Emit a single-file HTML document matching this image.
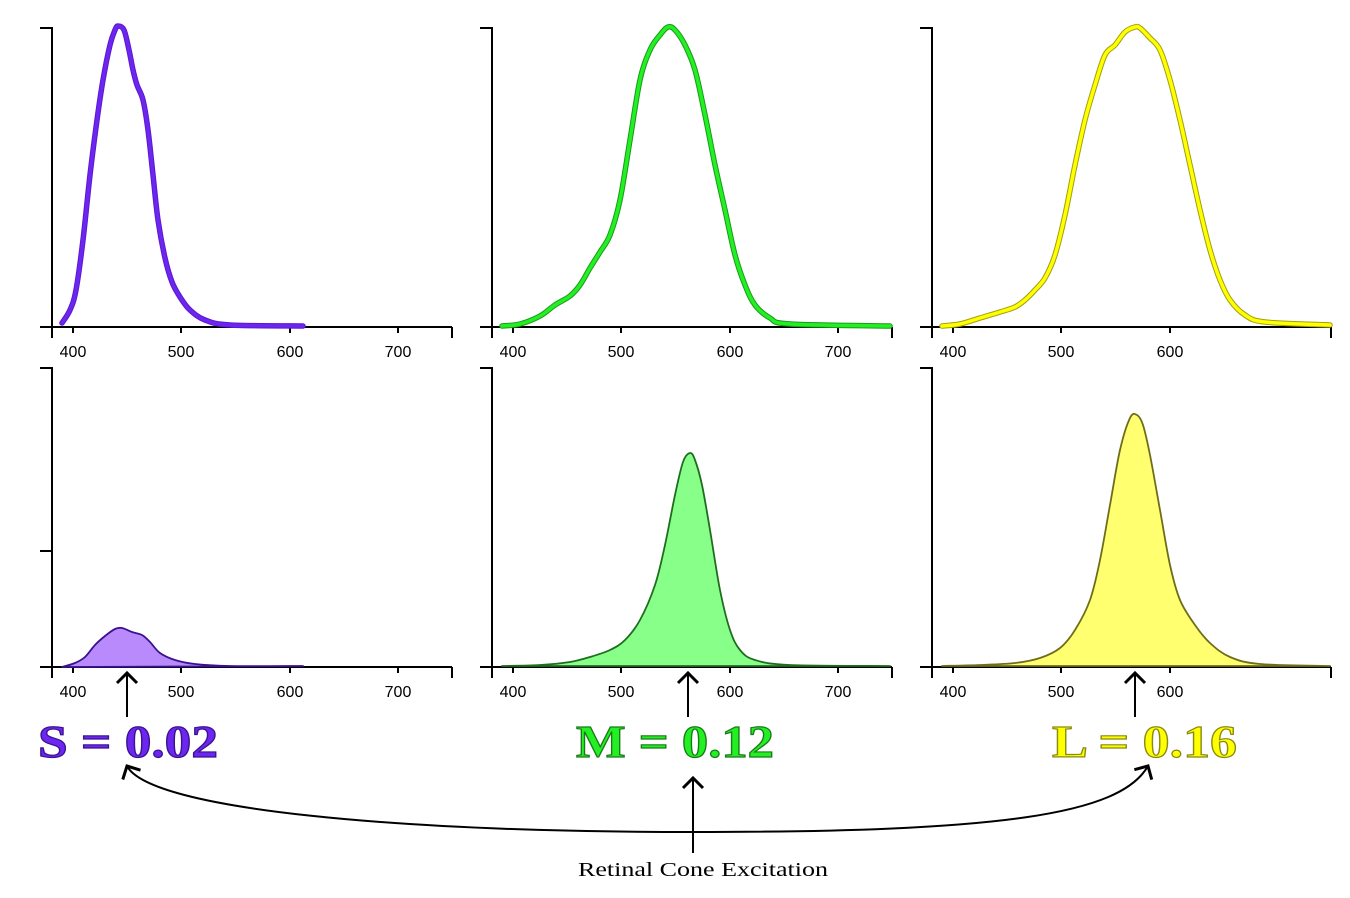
<!DOCTYPE html><html><head><style>body{margin:0;background:#fff}svg{display:block}</style></head><body>
<svg id="sv" width="1350" height="898" viewBox="0 0 1350 898" xmlns="http://www.w3.org/2000/svg">
<defs><marker id="ah" markerWidth="12" markerHeight="12" refX="6" refY="6" orient="auto"><path d="M1,1 L6,6 L1,11" fill="none" stroke="#000" stroke-width="1.5"/></marker></defs>
<g stroke="#000" stroke-width="2" fill="none">
<path d="M40,28H52V327M40,327H452M52,327V338M452,327V338M73,327V333M181,327V333M290,327V333M398,327V333"/>
<path d="M480,28H492V327M480,327H892M492,327V338M892,327V338M513,327V333M621,327V333M730,327V333M838,327V333"/>
<path d="M920,28H932V327M920,327H1331M932,327V338M1331,327V338M953,327V333M1061,327V333M1170,327V333"/>
<path d="M40,368H52V667M40,551H52M40,667H452M52,667V678M452,667V678M73,667V673M181,667V673M290,667V673M398,667V673"/>
<path d="M480,368H492V667M480,667H892M492,667V678M892,667V678M513,667V673M621,667V673M730,667V673M838,667V673"/>
<path d="M920,368H932V667M920,667H1331M932,667V678M1331,667V678M953,667V673M1061,667V673M1170,667V673"/>
</g>
<g font-family="Liberation Sans,sans-serif" font-size="16" text-anchor="middle">
<text x="73" y="357">400</text><text x="181" y="357">500</text><text x="290" y="357">600</text><text x="398" y="357">700</text>
<text x="513" y="357">400</text><text x="621" y="357">500</text><text x="730" y="357">600</text><text x="838" y="357">700</text>
<text x="953" y="357">400</text><text x="1061" y="357">500</text><text x="1170" y="357">600</text>
<text x="73" y="697">400</text><text x="181" y="697">500</text><text x="290" y="697">600</text><text x="398" y="697">700</text>
<text x="513" y="697">400</text><text x="621" y="697">500</text><text x="730" y="697">600</text><text x="838" y="697">700</text>
<text x="953" y="697">400</text><text x="1061" y="697">500</text><text x="1170" y="697">600</text>
</g>
<g id="curves" stroke-linejoin="round" stroke-linecap="round"></g>
<g stroke="#000" stroke-width="2" fill="none">
<path d="M127,717V673" marker-end="url(#ah)"/>
<path d="M688,717V673" marker-end="url(#ah)"/>
<path d="M1135,717V673" marker-end="url(#ah)"/>
<path d="M693,853V778" marker-end="url(#ah)"/>
<path d="M693,832 C400,832 150,810 127,766" marker-end="url(#ah)"/>
<path d="M693,832 C1000,832 1120,815 1148,766" marker-end="url(#ah)"/>
</g>
<g font-family="Liberation Serif,serif" font-weight="bold" font-size="46" stroke-width="1.2">
<text x="38" y="757" textLength="180" lengthAdjust="spacingAndGlyphs" fill="#6d25f0" stroke="#3a1290">S = 0.02</text>
<text x="576" y="757" textLength="198" lengthAdjust="spacingAndGlyphs" fill="#22f022" stroke="#1a7a1a">M = 0.12</text>
<text x="1052" y="757" textLength="185" lengthAdjust="spacingAndGlyphs" fill="#ffff00" stroke="#8a8a10">L = 0.16</text>
</g>
<text x="578" y="876" textLength="250" lengthAdjust="spacingAndGlyphs" font-family="Liberation Serif,serif" font-size="20">Retinal Cone Excitation</text>
</svg>
<script>
function sm(p){var d="M"+p[0][0]+","+p[0][1];for(var i=0;i<p.length-1;i++){var a=p[Math.max(i-1,0)],b=p[i],c=p[i+1],e=p[Math.min(i+2,p.length-1)];var c1=[b[0]+(c[0]-a[0])/6,b[1]+(c[1]-a[1])/6],c2=[c[0]-(e[0]-b[0])/6,c[1]-(e[1]-b[1])/6];d+=" C"+c1+" "+c2+" "+c;}return d;}
var S=[[62,323],[70,310],[76,290],[83,240],[90,175],[97,120],[103,80],[110,45],[115,30],[118,26],[124,30],[129,50],[133,70],[137,85],[143,100],[148,130],[153,175],[158,220],[165,258],[172,282],[180,297],[190,310],[205,320],[230,325],[303,326]];
var M=[[502,326],[520,324],[540,316],[555,305],[570,296],[580,285],[590,268],[600,252],[610,235],[620,200],[630,140],[640,80],[650,50],[660,35],[668,27],[675,30],[685,45],[695,70],[705,115],[715,165],[725,210],[735,255],[745,285],[755,305],[770,318],[790,324],[890,326]];
var L=[[942,326],[960,324],[980,318],[1000,312],[1015,307],[1025,300],[1035,290],[1045,278],[1055,255],[1065,215],[1075,165],[1085,120],[1095,85],[1105,55],[1115,45],[1125,32],[1135,27],[1140,28],[1150,38],[1160,50],[1170,80],[1180,120],[1190,165],[1200,210],[1210,250],[1220,280],[1230,300],[1245,315],[1265,322],[1330,325]];
var S2=[[62,667],[75,663],[85,657],[95,645],[105,636],[115,629],[122,628],[132,632],[142,635],[150,642],[160,653],[175,660],[195,664],[230,666],[303,666]];
var M2=[[502,666],[540,665],[570,662],[590,657],[610,650],[625,640],[640,620],[655,585],[665,545],[675,495],[683,462],[690,453],[695,460],[702,485],[710,530],[720,590],[730,630],[740,650],[755,660],[790,665],[890,666]];
var L2=[[942,666],[980,665],[1015,663],[1040,658],[1060,648],[1075,630],[1090,600],[1100,560],[1110,505],[1120,450],[1130,418],[1137,415],[1143,425],[1150,455],[1160,510],[1170,565],[1180,600],[1195,625],[1210,643],[1230,657],[1260,664],[1330,666]];
var h="";
[[S,"#5a1ad0","#6d25f0"],[M,"#1a9a1a","#22f022"],[L,"#a0a010","#ffff00"]].forEach(function(t){h+='<path d="'+sm(t[0])+'" fill="none" stroke="'+t[1]+'" stroke-width="5.5"/><path d="'+sm(t[0])+'" fill="none" stroke="'+t[2]+'" stroke-width="3.5"/>';});
[[S2,"#b98afc","#3a1290"],[M2,"#88ff88","#1e6e1e"],[L2,"#ffff70","#6e6e18"]].forEach(function(t){h+='<path d="'+sm(t[0])+' Z" fill="'+t[1]+'" stroke="'+t[2]+'" stroke-width="1.8"/>';});
document.getElementById("curves").innerHTML=h;
</script>
</body></html>
